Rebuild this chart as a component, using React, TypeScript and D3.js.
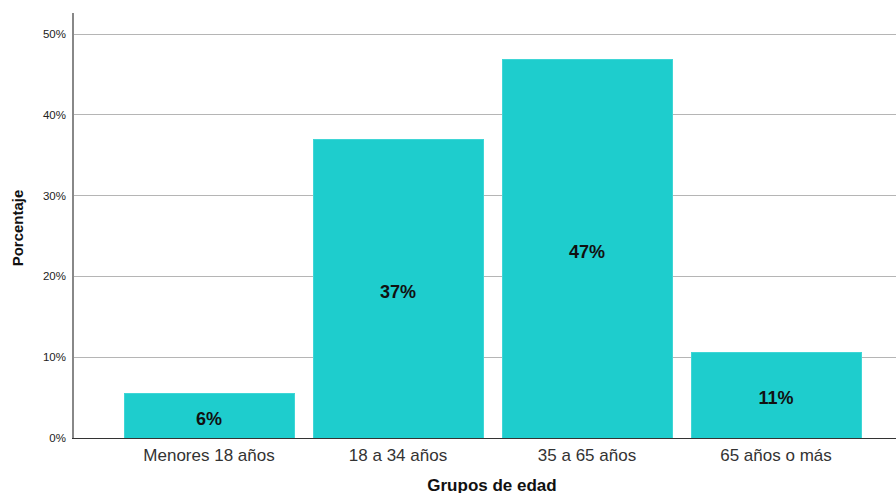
import React from "react";
import * as d3 from "d3";

const categories = ["Menores 18 años", "18 a 34 años", "35 a 65 años", "65 años o más"];
const values = [5.5, 36.9, 46.9, 10.6];
const barLabels = ["6%", "37%", "47%", "11%"];
const yTicks = [0, 10, 20, 30, 40, 50];

const W = 896;
const H = 493;
const axisX = 73;
const y0 = 438;
const font = "Arial, 'Liberation Sans', sans-serif";

export default function App() {
  const y = d3.scaleLinear().domain([0, 50]).range([y0, 34]);
  const x = d3
    .scaleBand<string>()
    .domain(categories)
    .range([124, 861])
    .paddingInner(19 / 189)
    .paddingOuter(0);

  return (
    <svg width={W} height={H} style={{ position: "absolute", left: 0, top: 0, background: "#fff" }}>
      {yTicks.map((t) => (
        <g key={t}>
          {t > 0 && (
            <line x1={axisX} x2={W} y1={y(t)} y2={y(t)} stroke="#b5b5b5" strokeWidth={1} shapeRendering="crispEdges" />
          )}
          <text x={66} y={y(t)} dy="0.35em" textAnchor="end" fontFamily={font} fontSize={11.5} fill="#222">
            {t}%
          </text>
        </g>
      ))}
      {categories.map((c, i) => (
        <g key={c}>
          <rect
            x={x(c)}
            y={y(values[i])}
            width={x.bandwidth()}
            height={y0 - y(values[i])}
            fill="#1ECDCD"
            stroke="#3fd6d6"
            strokeWidth={1}
            shapeRendering="crispEdges"
          />
          <text
            x={(x(c) as number) + x.bandwidth() / 2}
            y={(y(values[i]) + y0) / 2 + 3}
            dy="0.35em"
            textAnchor="middle"
            fontFamily={font}
            fontWeight="bold"
            fontSize={18}
            fill="#111"
          >
            {barLabels[i]}
          </text>
          <text
            x={(x(c) as number) + x.bandwidth() / 2}
            y={455}
            dy="0.35em"
            textAnchor="middle"
            fontFamily={font}
            fontSize={17}
            fill="#333"
          >
            {c}
          </text>
        </g>
      ))}
      <line x1={axisX} x2={axisX} y1={13} y2={y0} stroke="#888" strokeWidth={2} shapeRendering="crispEdges" />
      <line x1={axisX - 1} x2={W} y1={y0} y2={y0} stroke="#333" strokeWidth={1} shapeRendering="crispEdges" />
      <text
        transform={`translate(18,${228}) rotate(-90)`}
        dy="0.35em"
        textAnchor="middle"
        fontFamily={font}
        fontWeight="bold"
        fontSize={15}
        fill="#111"
      >
        Porcentaje
      </text>
      <text x={492} y={491} textAnchor="middle" fontFamily={font} fontWeight="bold" fontSize={17} fill="#111">
        Grupos de edad
      </text>
    </svg>
  );
}
